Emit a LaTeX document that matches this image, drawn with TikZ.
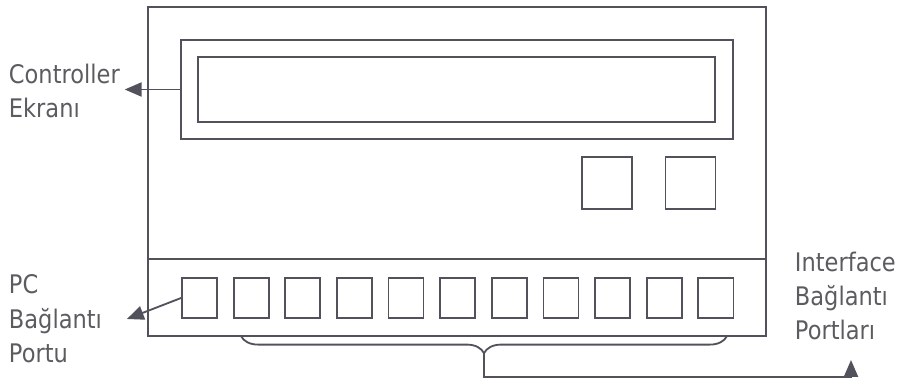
\documentclass[tikz,border=0pt]{standalone}
\usepackage{fontspec}
\setmainfont{DejaVu Sans}[FakeStretch=0.88]
\usetikzlibrary{arrows.meta,positioning,decorations.pathreplacing}
\definecolor{panelgray}{RGB}{82,82,92}
\definecolor{textgray}{RGB}{92,92,96}

\begin{document}
\begin{tikzpicture}[
  x=0.025cm, y=-0.025cm,
  node distance=0.37cm,
  frame/.style={rectangle, draw=panelgray, line width=1.3pt, inner sep=0pt},
  port/.style={frame, minimum width=0.875cm, minimum height=1cm},
  knob/.style={frame, minimum width=1.25cm, minimum height=1.3cm},
  txt/.style={align=left, text=textgray, font=\fontsize{18.2}{24.5}\selectfont},
  arrow/.style={-{Triangle[length=12pt,width=10pt]}, draw=panelgray, line width=1.3pt},
]
\useasboundingbox (0,0) rectangle (900,379);

% device case and screen
\node[frame, minimum width=15.45cm, minimum height=8.225cm] (case) at (457,171.5) {};
\node[frame, minimum width=13.8cm, minimum height=2.475cm] (display) at (457,89.5) {};
\node[frame, minimum width=12.925cm, minimum height=1.625cm] (screen) at (456.5,89.5) {};
\node[knob] (knobA) at (607,183) {};
\node[knob] (knobB) at (690.5,183) {};
\draw[panelgray, line width=1.3pt] (case.west |- 0,259) -- (case.east |- 0,259);

% ports
\node[port] (port1) at (199.5,298) {};
\foreach \i [remember=\i as \j (initially 1)] in {2,...,11}
  \node[port, right=of port\j] (port\i) {};

% labels
\node[txt, anchor=west] (ctrl) at (4,91) {Controller\\Ekranı};
\node[txt, anchor=west] (pc) at (4,319) {PC\\Bağlantı\\Portu};
\node[txt, anchor=west] (iface) at (790,296) {Interface\\Bağlantı\\Portları};

% brace under the ports
\coordinate (braceL) at (241,336);
\coordinate (braceR) at (727,336);
\coordinate (braceTip) at (484,353);
\coordinate (bend) at (851,377);
\coordinate (ifaceTip) at (851,360);
\draw[panelgray, line width=1.3pt, decorate, decoration={brace, mirror, amplitude=0.43cm}] (braceL) -- (braceR);

\draw[arrow] (display.west) -- (display.west -| ctrl.east);
\draw[arrow] (port1.west) -- ([xshift=0.5cm]pc.east);
\draw[arrow] (braceTip) |- (bend) -- (ifaceTip);
\end{tikzpicture}
\end{document}
